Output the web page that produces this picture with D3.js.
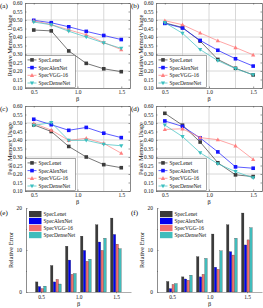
<!DOCTYPE html>
<html>
<head>
<meta charset="utf-8">
<script src="https://cdn.jsdelivr.net/npm/d3@7"></script>
<style>
  body { margin: 0; background: #fff; }
  svg { display: block; font-family: "Liberation Serif", "DejaVu Serif", serif; }
</style>
</head>
<body>
<script>
const betas = [0.5, 0.7, 0.9, 1.1, 1.3, 1.5];
const models = ["SpecLenet", "SpecAlexNet", "SpecVGG-16", "SpecDenseNet"];
const colors = ["#3c3c3c", "#1515ff", "#ff8080", "#3cc0c0"];
const barColors = ["#3a3a3a", "#0000f0", "#f07070", "#40bcbc"];
const markers = ["square", "square", "up", "down"];

// relative memory usage, one row per model
const relMemA = [
  [0.441, 0.436, 0.318, 0.245, 0.213, 0.196],
  [0.498, 0.484, 0.460, 0.433, 0.409, 0.385],
  [0.495, 0.473, 0.442, 0.413, 0.368, 0.326],
  [0.488, 0.472, 0.434, 0.400, 0.365, 0.333]
];
const relMemB = [
  [0.483, 0.456, 0.376, 0.268, 0.216, 0.177],
  [0.480, 0.453, 0.380, 0.322, 0.272, 0.229],
  [0.496, 0.472, 0.424, 0.378, 0.338, 0.295],
  [0.484, 0.422, 0.326, 0.261, 0.214, 0.177]
];
// peak memory usage
const peakMemC = [
  [0.489, 0.450, 0.362, 0.300, 0.255, 0.237],
  [0.522, 0.490, 0.457, 0.474, 0.440, 0.414],
  [0.498, 0.458, 0.398, 0.410, 0.380, 0.322],
  [0.486, 0.502, 0.398, 0.398, 0.375, 0.366]
];
const peakMemD = [
  [0.557, 0.487, 0.388, 0.266, 0.195, 0.185],
  [0.512, 0.480, 0.412, 0.330, 0.242, 0.234],
  [0.462, 0.466, 0.414, 0.402, 0.366, 0.286],
  [0.488, 0.420, 0.325, 0.260, 0.214, 0.177]
];
// relative error (bars)
const relErrE = [
  [2.4, 6.3, 10.9, 13.3, 16.0, 17.6],
  [1.3, 2.4, 7.6, 9.9, 11.9, 13.7],
  [0.8, 3.0, 4.2, 7.3, 9.9, 11.4],
  [1.4, 1.9, 4.4, 7.8, 12.8, 10.3]
];
const relErrF = [
  [2.5, 3.6, 8.4, 13.8, 16.0, 18.8],
  [0.8, 3.1, 3.6, 5.9, 9.6, 11.2],
  [1.8, 2.8, 4.2, 5.4, 8.8, 12.4],
  [2.0, 4.0, 8.0, 9.8, 12.8, 15.3]
];

const memTicks = [0.10, 0.15, 0.20, 0.25, 0.30, 0.35, 0.40, 0.45, 0.50, 0.55, 0.60];
const memGrid = [0.2, 0.3, 0.4, 0.5];
const betaGrid = [0.7, 1.0, 1.3];
const betaTicks = [0.5, 1.0, 1.5];
const errTicks = [0, 10, 20];
const errMinor = [5, 15];

const W = 263, H = 308;
const svg = d3.select("body").append("svg").attr("width", W).attr("height", H);

const fmt2 = d3.format(".2f"), fmt1 = d3.format(".1f");
const tickFont = 5.4, legFont = 5.4, titleFont = 6.3;

function marker(g, type, x, y, c) {
  const s = 1.8;
  if (type === "square") {
    g.append("rect").attr("x", x - s).attr("y", y - s).attr("width", 2 * s).attr("height", 2 * s).attr("fill", c);
  } else if (type === "up") {
    g.append("path").attr("d", `M${x},${y - 2.2}L${x + 2.1},${y + 1.6}L${x - 2.1},${y + 1.6}Z`).attr("fill", c);
  } else {
    g.append("path").attr("d", `M${x},${y + 2.2}L${x + 2.1},${y - 1.6}L${x - 2.1},${y - 1.6}Z`).attr("fill", c);
  }
}

function styleAxes(ax) {
  ax.selectAll(".domain").attr("stroke", "#555").attr("stroke-width", 0.7);
  ax.selectAll(".tick line").attr("stroke", "#555").attr("stroke-width", 0.6);
  ax.selectAll("text").attr("font-family", "Liberation Serif").attr("font-size", tickFont).attr("fill", "#111");
}

function linePanel(box, data, label, ytitle) {
  const x = d3.scaleLinear().domain([0.4, 1.6]).range([box.x0, box.x1]);
  const y = d3.scaleLinear().domain([0.1, 0.6]).range([box.y1, box.y0]);
  const g = svg.append("g");

  g.selectAll(".hg").data(memGrid).join("line")
    .attr("x1", box.x0).attr("x2", box.x1)
    .attr("y1", d => y(d)).attr("y2", d => y(d))
    .attr("stroke", "#d4d4d4").attr("stroke-width", 0.9);
  g.selectAll(".vg").data(betaGrid).join("line")
    .attr("y1", box.y0).attr("y2", box.y1)
    .attr("x1", d => x(d)).attr("x2", d => x(d))
    .attr("stroke", "#d4d4d4").attr("stroke-width", 0.9);

  // axes with inward ticks on all sides
  const ax = g.append("g");
  ax.append("g").attr("transform", `translate(0,${box.y1})`)
    .call(d3.axisBottom(x).tickValues(betaTicks).tickSizeInner(-1.5).tickSizeOuter(0).tickPadding(2).tickFormat(fmt1));
  ax.append("g").attr("transform", `translate(${box.x0},0)`)
    .call(d3.axisLeft(y).tickValues(memTicks).tickSizeInner(-1.5).tickSizeOuter(0).tickPadding(2.5).tickFormat(fmt2));
  ax.append("g").attr("transform", `translate(0,${box.y0})`)
    .call(d3.axisTop(x).tickValues(betaTicks).tickSizeInner(-1.5).tickSizeOuter(0).tickFormat(""));
  ax.append("g").attr("transform", `translate(${box.x1},0)`)
    .call(d3.axisRight(y).tickValues(memTicks).tickSizeInner(-1.5).tickSizeOuter(0).tickFormat(""));
  styleAxes(ax);

  const line = d3.line().x((d, i) => x(betas[i])).y(d => y(d));
  data.forEach((row, k) => {
    g.append("path").datum(row).attr("d", line)
      .attr("fill", "none").attr("stroke", colors[k]).attr("stroke-width", 0.7);
    row.forEach((v, i) => marker(g, markers[k], x(betas[i]), y(v), colors[k]));
  });

  // legend bottom-left
  const lg = g.append("g");
  const lx = box.x0 + 0.5, ly = box.y1 - 32.5;
  lg.append("rect").attr("x", lx).attr("y", ly).attr("width", 50).attr("height", 32)
    .attr("fill", "#fff").attr("stroke", "#555").attr("stroke-width", 0.5);
  models.forEach((m, k) => {
    const yy = ly + 4.4 + k * 7.7;
    lg.append("line").attr("x1", lx + 2).attr("x2", lx + 11).attr("y1", yy).attr("y2", yy)
      .attr("stroke", colors[k]).attr("stroke-width", 0.7);
    marker(lg, markers[k], lx + 6.5, yy, colors[k]);
    lg.append("text").attr("x", lx + 13).attr("y", yy + 1.9).attr("font-size", legFont)
      .attr("fill", "#111").text(m);
  });

  g.append("text").attr("x", box.x0 - 25).attr("y", box.y0 + 4.5).attr("font-size", 7)
    .attr("fill", "#000").text(label);
  g.append("text").attr("transform", `translate(${box.x0 - 13.5},${(box.y0 + box.y1) / 2}) rotate(-90)`)
    .attr("text-anchor", "middle").attr("font-size", titleFont).attr("fill", "#111").text(ytitle);
  g.append("text").attr("x", (box.x0 + box.x1) / 2).attr("y", box.y1 + 13)
    .attr("text-anchor", "middle").attr("font-size", 6.3).attr("fill", "#111").text("β");
}

function barPanel(box, data, label) {
  const x = d3.scaleLinear().domain([0.3, 1.7]).range([box.x0, box.x1]);
  const y = d3.scaleLinear().domain([0, 20]).range([box.y1, box.y0]);
  const g = svg.append("g");
  const bw = 2.75;

  data.forEach((row, k) => {
    g.selectAll(null).data(row).join("rect")
      .attr("x", (d, i) => x(betas[i]) - 2 * bw + k * bw)
      .attr("y", d => y(d)).attr("width", bw - 0.3)
      .attr("height", d => y(0) - y(d))
      .attr("fill", barColors[k])
      .attr("stroke", "#222").attr("stroke-width", 0.25);
  });

  const ax = g.append("g");
  ax.append("g").attr("transform", `translate(0,${box.y1})`)
    .call(d3.axisBottom(x).tickValues(betaTicks).tickSizeInner(1.2).tickSizeOuter(0).tickPadding(1.5).tickFormat(fmt1));
  ax.append("g").attr("transform", `translate(${box.x0},0)`)
    .call(d3.axisLeft(y).tickValues(errTicks).tickSizeInner(-1.5).tickSizeOuter(0).tickPadding(4).tickFormat(d3.format("d")));
  ax.append("g").attr("transform", `translate(${box.x0},0)`)
    .call(d3.axisLeft(y).tickValues(errMinor).tickSizeInner(-1).tickSizeOuter(0).tickFormat(""));
  styleAxes(ax);
  ax.selectAll(".domain").attr("stroke", "#777").attr("stroke-width", 0.6);

  const lg = g.append("g");
  const lx = box.x0 + 3, ly = box.y0 + 3;
  models.forEach((m, k) => {
    const yy = ly + k * 7;
    lg.append("rect").attr("x", lx).attr("y", yy).attr("width", 12.5).attr("height", 6.2)
      .attr("fill", barColors[k]);
    lg.append("text").attr("x", lx + 14.5).attr("y", yy + 4.8).attr("font-size", legFont)
      .attr("fill", "#111").text(m);
  });

  g.append("text").attr("x", box.x0 - 26).attr("y", box.y0 + 7).attr("font-size", 7)
    .attr("fill", "#000").text(label);
  g.append("text").attr("transform", `translate(${box.x0 - 13.5},${(box.y0 + box.y1) / 2}) rotate(-90)`)
    .attr("text-anchor", "middle").attr("font-size", titleFont).attr("fill", "#111").text("Relative Error");
  g.append("text").attr("x", (box.x0 + box.x1) / 2).attr("y", box.y1 + 13.5)
    .attr("text-anchor", "middle").attr("font-size", 6.3).attr("fill", "#111").text("β");
}

linePanel({x0: 25, x1: 130, y0: 3, y1: 88}, relMemA, "(a)", "Relative Memory Usage");
linePanel({x0: 156, x1: 262, y0: 3, y1: 88}, relMemB, "(b)", "Relative Memory Usage");
linePanel({x0: 25, x1: 130, y0: 106, y1: 191}, peakMemC, "(c)", "Peak Memory Usage");
linePanel({x0: 156, x1: 262, y0: 106, y1: 191}, peakMemD, "(d)", "Peak Memory Usage");
barPanel({x0: 26, x1: 131, y0: 208, y1: 292}, relErrE, "(e)");
barPanel({x0: 157, x1: 262, y0: 208, y1: 292}, relErrF, "(f)");
</script>
</body>
</html>
